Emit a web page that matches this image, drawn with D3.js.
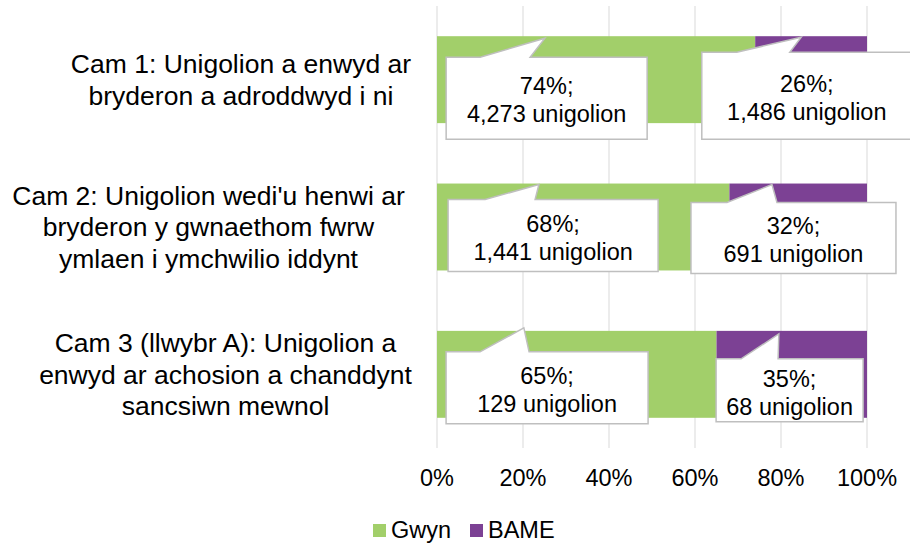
<!doctype html>
<html>
<head>
<meta charset="utf-8">
<script src="https://d3js.org/d3.v7.min.js"></script>
<style>
  body { margin: 0; background: #fff; }
  text { font-family: "Liberation Sans", Arial, sans-serif; fill: #000; }
</style>
</head>
<body>
<svg width="910" height="543" id="chart"></svg>
<script>
// data
var categories = [
  "Cam 1: Unigolion a enwyd ar|bryderon a adroddwyd i ni",
  "Cam 2: Unigolion wedi'u henwi ar|bryderon y gwnaethom fwrw|ymlaen i ymchwilio iddynt",
  "Cam 3 (llwybr A): Unigolion a|enwyd ar achosion a chanddynt|sancsiwn mewnol"
];
var seriesNames = ["Gwyn", "BAME"];
var gwynPct = [74, 68, 65];
var bamePct = [26, 32, 35];
var gwynCount = ["4,273", "1,441", "129"];
var bameCount = ["1,486", "691", "68"];
var tickValues = [0, 20, 40, 60, 80, 100];

var colors = { Gwyn: "#a2cf6a", BAME: "#7c4194" };

// callout placement (manually moved in the original), per series per category
// cx / tip in percent units, the rest in px
var calloutGwyn = [
  { cx: 25.5, w: 201, top: 21, h: 82, tip: 25.1, tipDy: 2, b0: 34, b1: 84 },
  { cx: 27.0, w: 210, top: 16, h: 72, tip: 23.7, tipDy: 1, b0: 37, b1: 87 },
  { cx: 25.6, w: 202, top: 21, h: 72, tip: 20.2, tipDy: -3, b0: 34, b1: 83 }
];
var calloutBame = [
  { cx: 86.0, w: 210, top: 16, h: 87, tip: 84.7, tipDy: 1, b0: 35, b1: 88 },
  { cx: 82.9, w: 205, top: 19, h: 71, tip: 77.9, tipDy: 1, b0: 36, b1: 86 },
  { cx: 82.0, w: 147, top: 28, h: 63, tip: 79.5, tipDy: 3, b0: 25, b1: 62 }
];
var labelCx = [241, 208.5, 225.5];

var svg = d3.select("#chart");

var x = d3.scaleLinear().domain([0, 100]).range([437, 867]);
var y = d3.scaleBand().domain(d3.range(categories.length))
  .range([6, 448]).paddingInner(0.41).paddingOuter(0.205);

// gridlines
svg.append("g").selectAll("line")
  .data(tickValues).enter().append("line")
  .attr("x1", function(d) { return x(d); })
  .attr("x2", function(d) { return x(d); })
  .attr("y1", 6).attr("y2", 448)
  .attr("stroke", "#d9d9d9").attr("stroke-width", 1);

// tick labels
svg.append("g").selectAll("text")
  .data(tickValues).enter().append("text")
  .attr("x", function(d) { return x(d); })
  .attr("y", 478)
  .attr("dy", "0.35em")
  .attr("text-anchor", "middle")
  .attr("font-size", "23.5px")
  .text(function(d) { return d + "%"; });

// bars
var rows = categories.map(function(c, i) {
  return { i: i, gwyn: gwynPct[i], bame: bamePct[i] };
});
var barG = svg.append("g");
barG.selectAll(".gwyn").data(rows).enter().append("rect")
  .attr("class", "gwyn")
  .attr("x", x(0))
  .attr("y", function(d) { return y(d.i); })
  .attr("width", function(d) { return x(d.gwyn) - x(0); })
  .attr("height", y.bandwidth())
  .attr("fill", colors.Gwyn);
barG.selectAll(".bame").data(rows).enter().append("rect")
  .attr("class", "bame")
  .attr("x", function(d) { return x(d.gwyn); })
  .attr("y", function(d) { return y(d.i); })
  .attr("width", function(d) { return x(d.gwyn + d.bame) - x(d.gwyn); })
  .attr("height", y.bandwidth())
  .attr("fill", colors.BAME);

// category labels
var catG = svg.append("g");
categories.forEach(function(c, i) {
  var lines = c.split("|");
  var cy = y(i) + y.bandwidth() / 2;
  var lh = 31.5;
  var t = catG.append("text")
    .attr("text-anchor", "middle")
    .attr("font-size", "26.5px");
  lines.forEach(function(l, k) {
    t.append("tspan")
      .attr("x", labelCx[i])
      .attr("y", cy + (k - (lines.length - 1) / 2) * lh)
      .attr("dy", "0.35em")
      .text(l);
  });
});

// callouts
function callout(lay, barTop, line1, line2) {
  var left = x(lay.cx) - lay.w / 2;
  var top = barTop + lay.top;
  var right = left + lay.w;
  var bottom = top + lay.h;
  var tx = x(lay.tip), ty = barTop + lay.tipDy;
  var p = d3.path();
  p.moveTo(left, top);
  p.lineTo(left + lay.b0, top);
  p.lineTo(tx, ty);
  p.lineTo(left + lay.b1, top);
  p.lineTo(right, top);
  p.lineTo(right, bottom);
  p.lineTo(left, bottom);
  p.closePath();
  var g = svg.append("g");
  g.append("path").attr("d", p.toString())
    .attr("fill", "#fff").attr("stroke", "#bfbfbf").attr("stroke-width", 1.5);
  var cy = (top + bottom) / 2 + 2;
  g.append("text").attr("x", (left + right) / 2).attr("y", cy - 14)
    .attr("dy", "0.35em").attr("text-anchor", "middle").attr("font-size", "23.5px")
    .text(line1);
  g.append("text").attr("x", (left + right) / 2).attr("y", cy + 14)
    .attr("dy", "0.35em").attr("text-anchor", "middle").attr("font-size", "23.5px")
    .text(line2);
}

rows.forEach(function(d) {
  var top = y(d.i);
  callout(calloutGwyn[d.i], top, gwynPct[d.i] + "%;", gwynCount[d.i] + " unigolion");
  callout(calloutBame[d.i], top, bamePct[d.i] + "%;", bameCount[d.i] + " unigolion");
});

// legend
var leg = svg.append("g");
var legX = [373, 470];
seriesNames.forEach(function(s, i) {
  leg.append("rect")
    .attr("x", legX[i]).attr("y", 524)
    .attr("width", 13).attr("height", 13)
    .attr("fill", colors[s]);
  leg.append("text")
    .attr("x", legX[i] + 18).attr("y", 530)
    .attr("dy", "0.35em")
    .attr("font-size", "23.5px")
    .text(s);
});
</script>
</body>
</html>
